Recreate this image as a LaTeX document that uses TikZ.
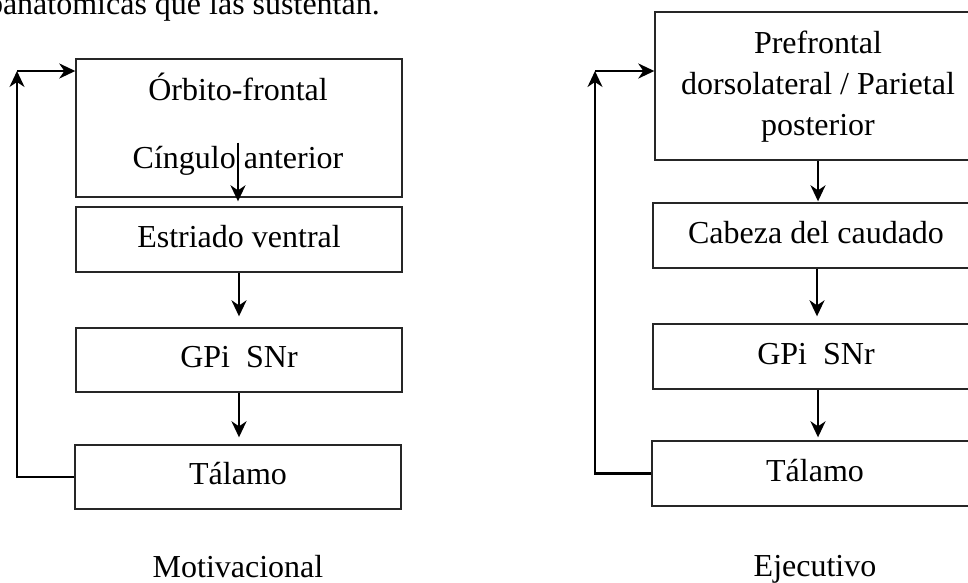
\documentclass[tikz,border=0pt]{standalone}
\usepackage{fontspec}
\setmainfont{Liberation Serif}
\usetikzlibrary{arrows.meta}
\begin{document}
\begin{tikzpicture}[x=1pt,y=-1pt,
  font=\fontsize{32}{38}\selectfont,
  box/.style={draw=black!85, line width=1.4pt, minimum width=326pt, inner sep=0pt,
    text height=22.4pt, text depth=7pt},
  lbl/.style={anchor=base, inner sep=0pt},
  tip/.style={-{Stealth[length=16pt,width=15pt,inset=5pt]}},
  arr/.style={line width=2.2pt, tip},
  fb/.style={line width=2.2pt}]
\useasboundingbox (0,0) rectangle (968,582);
% top text (cropped line)
\node[anchor=base east, inner sep=0pt] (top) at (380,14.5) {banatómicas que las sustentan.};
% left column
\node[box, minimum height=138pt] (L1) at (239,128) {};
\node[lbl] (L1a) at (238,100) {Órbito-frontal};
\node[lbl] (L1b) at (238,168) {Cíngulo anterior};
\node[box, minimum height=65pt] (L2) at (239,239.5) {Estriado ventral};
\node[box, minimum height=64pt] (L3) at (239,360) {GPi\ \ SNr};
\node[box, minimum height=64pt] (L4) at (238,477) {Tálamo};
\node[lbl] (Lt) at (238,577) {Motivacional};
% right column
\node[box, minimum height=148pt] (R1) at (818,86) {};
\node[lbl] (R1a) at (818,53) {Prefrontal};
\node[lbl] (R1b) at (818,94) {dorsolateral / Parietal};
\node[lbl] (R1c) at (818,135) {posterior};
\node[box, minimum height=65pt] (R2) at (816,235.5) {Cabeza del caudado};
\node[box, minimum height=65pt] (R3) at (816,356.5) {GPi\ \ SNr};
\node[box, minimum height=65pt] (R4) at (815,473.5) {Tálamo};
\node[lbl] (Rt) at (815,576) {Ejecutivo};
% left arrows
\draw[arr] ([yshift=55pt]L1.south -| 238,0) -- ([yshift=5pt]L2.north -| 238,0);
\draw[arr] (L2.south -| 239,0) -- ([yshift=11pt]L3.north -| 239,0);
\draw[arr] (L3.south -| 239,0) -- ([yshift=7pt]L4.north -| 239,0);
\coordinate (fl) at (17,71);
\draw[fb, tip] (L4.west) -- (L4.west -| fl) -- (fl);
\draw[arr] (fl) -- (fl -| L1.west);
% right arrows
\draw[arr] (R1.south) -- ([yshift=1pt]R2.north -| R1.south);
\draw[arr] (R2.south -| 817,0) -- ([yshift=7pt]R3.north -| 817,0);
\draw[arr] (R3.south -| 818,0) -- ([yshift=3pt]R4.north -| 818,0);
\coordinate (fr) at (595,71);
\draw[fb, tip] (R4.west) -- (R4.west -| fr) -- (fr);
\draw[arr] (fr) -- (fr -| R1.west);
\end{tikzpicture}
\end{document}
